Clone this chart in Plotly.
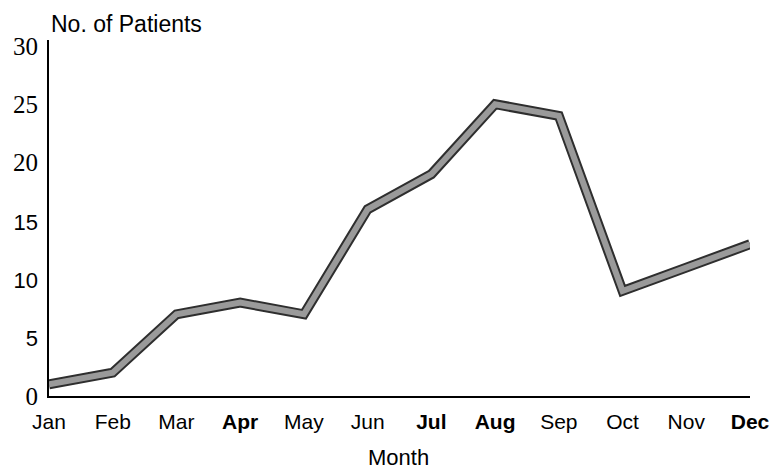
import plotly.graph_objects as go

months = ["Jan", "Feb", "Mar", "Apr", "May", "Jun", "Jul", "Aug", "Sep", "Oct", "Nov", "Dec"]
bold_months = ["Apr", "Jul", "Aug", "Dec"]
patients = [1, 2, 7, 8, 7, 16, 19, 25, 24, 9, 11, 13]
y_ticks = [0, 5, 10, 15, 20, 25, 30]
sans_y_ticks = [5, 10, 15]

SANS = "Liberation Sans, Arial"
SERIF = "Liberation Serif, Times New Roman"

x_ticktext = [f"<b>{m}</b>" if m in bold_months else m for m in months]
y_ticktext = [
    (f'<span style="font-family:{SANS};font-size:22px">{v}</span>' if v in sans_y_ticks else str(v))
    for v in y_ticks
]

fig = go.Figure()
# dark outline of the thick line
fig.add_trace(go.Scatter(x=months, y=patients, mode="lines",
                         line=dict(color="#2e2e2e", width=10), hoverinfo="skip", showlegend=False))
# gray body of the thick line
fig.add_trace(go.Scatter(x=months, y=patients, mode="lines",
                         line=dict(color="#9a9a9a", width=6), showlegend=False))

fig.update_layout(
    width=771, height=469,
    margin=dict(l=49, r=21, t=40, b=73, autoexpand=False),
    plot_bgcolor="white", paper_bgcolor="white",
    xaxis=dict(range=[0, 11], tickvals=months, ticktext=x_ticktext,
               showgrid=False, zeroline=False, showline=True, automargin=False,
               linecolor="black", linewidth=1.5, ticks="",
               tickfont=dict(family=SANS, size=21, color="black"),
               ticklabelstandoff=6, fixedrange=True),
    yaxis=dict(range=[0, 30.5], tickvals=y_ticks, ticktext=y_ticktext,
               showgrid=False, zeroline=False, showline=True, automargin=False,
               linecolor="black", linewidth=2, ticks="",
               tickfont=dict(family=SERIF, size=25, color="black"),
               ticklabelstandoff=4, fixedrange=True),
    annotations=[
        dict(text="No. of Patients", x=0.0, xref="paper", y=1, yref="paper",
             xanchor="left", yanchor="middle", yshift=16, showarrow=False,
             font=dict(family=SANS, size=23, color="black")),
        dict(text="Month", x=0.499, xref="paper", y=0, yref="paper",
             xanchor="center", yanchor="middle", yshift=-61, showarrow=False,
             font=dict(family=SANS, size=22, color="black")),
    ],
)

fig.write_html("out.html", config={"displayModeBar": False},
               post_script="document.body.style.margin='0';document.body.style.overflow='hidden';")
